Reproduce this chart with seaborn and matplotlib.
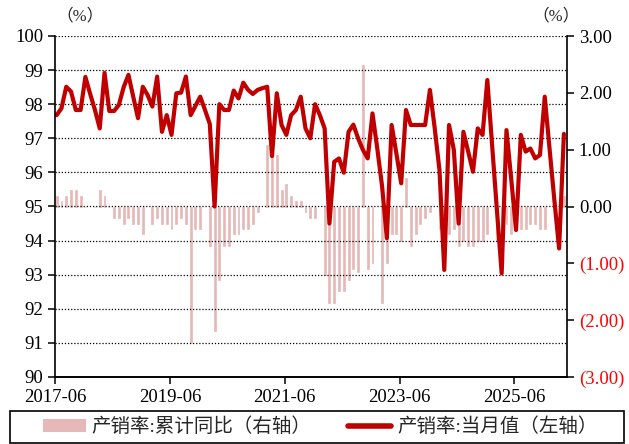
import numpy as np
import pandas as pd
import matplotlib
matplotlib.use("Agg")
import matplotlib.pyplot as plt
import seaborn as sns
from matplotlib.lines import Line2D
from matplotlib.patches import Patch, Rectangle

nan = np.nan

# monthly data, 2017-06 .. 2026-04
months = pd.date_range("2017-06-01", periods=107, freq="MS")
tick_labels = ["2017-06", "2019-06", "2021-06", "2023-06", "2025-06"]

# 产销率:当月值 (left axis, %)
monthly_rate = [
    97.68, 97.88, 98.51, 98.37, 97.83, 97.83, 98.80, 98.30, 97.83, 97.29,
    98.92, 97.80, 97.80, 97.98, 98.50, 98.86, 98.22, 97.59, 98.51, 98.27,
    97.93, 98.81, 97.19, 97.68, 97.10, 98.32, 98.34, 98.81, 97.68, 97.95,
    98.22, 97.83, 97.42, 95.00, 98.00, 97.83, 97.83, 98.40, 98.17, 98.63,
    98.42, 98.30, 98.42, 98.47, 98.51, 96.48, 98.32, 97.39, 97.10, 97.68,
    97.83, 98.22, 97.29, 97.00, 98.00, 97.68, 97.29, 94.50, 96.31, 96.41,
    95.99, 97.19, 97.40, 97.00, 96.66, 96.41, 97.73, 96.70, 95.60, 94.07,
    97.39, 96.55, 95.68, 97.83, 97.39, 97.39, 97.39, 97.39, 98.42, 97.30,
    96.07, 93.14, 97.39, 96.66, 94.50, 97.19, 96.61, 96.02, 97.29, 97.10,
    98.71, 96.80, 94.90, 93.04, 97.24, 95.80, 94.31, 97.10, 96.61, 96.70,
    96.41, 96.51, 98.22, 96.70, 95.20, 93.77, 97.13,
]

# 产销率:累计同比 (right axis, ppt)
cum_yoy = [
    0.19, 0.09, 0.19, 0.29, 0.29, 0.19, 0.00, nan, 0.00, 0.29,
    0.19, 0.00, -0.20, -0.20, -0.30, -0.20, -0.30, -0.30, -0.49, nan,
    -0.30, -0.20, -0.30, -0.30, -0.40, -0.30, -0.20, -0.30, -2.41, -0.40,
    -0.40, nan, -0.69, -2.19, -1.29, -0.69, -0.69, -0.49, -0.49, -0.40,
    -0.40, -0.30, -0.10, nan, 1.09, 0.90, 0.90, 0.29, 0.39, 0.19,
    0.09, 0.09, -0.10, -0.20, -0.20, nan, -1.20, -1.70, -1.70, -1.49,
    -1.49, -1.29, -1.10, -1.15, 2.49, -1.10, -1.00, nan, -1.70, -1.00,
    -0.49, -0.49, -0.60, 0.50, -0.69, -0.49, -0.30, -0.20, -0.10, nan,
    -0.40, -0.49, -0.49, -0.40, -0.69, -0.60, -0.69, -0.69, -0.60, -0.60,
    -0.49, nan, -0.60, -0.50, -0.30, -0.49, -0.40, -0.40, -0.40, -0.30,
    -0.30, -0.40, -0.40, nan, nan, nan, 0.19,
]

left_ticks = list(range(90, 101))
right_ticks = [-3, -2, -1, 0, 1, 2, 3]

RED = "#C00000"
PINK = "#E6B9B8"

df = pd.DataFrame({"month": months, "rate": monthly_rate, "yoy": cum_yoy})
df["pos"] = (df["month"].dt.year - 2017) * 12 + df["month"].dt.month - 6 + 0.35

sns.set_style("ticks")
plt.rcParams["font.family"] = ["Liberation Serif", "Noto Sans CJK SC"]

fig = plt.figure(figsize=(6.29, 4.44), dpi=100)
ax = fig.add_axes([55 / 629, 67 / 444, 512 / 629, 341 / 444])
ax2 = ax.twinx()

sns.barplot(data=df.dropna(subset=["yoy"]), x="pos", y="yoy", native_scale=True,
            width=0.4, color=PINK, saturation=1, errorbar=None,
            edgecolor=PINK, linewidth=0.5, ax=ax2)
sns.lineplot(data=df, x="pos", y="rate", color=RED, linewidth=3, ax=ax)

ax.set_zorder(ax2.get_zorder() + 1)
ax.patch.set_visible(False)

ax.set_ylim(90, 100)
ax2.set_ylim(-3, 3)
ax.set_xlim(0, 107)

ax.set_yticks(left_ticks)
ax.set_xticks([0, 24, 48, 72, 96], labels=tick_labels)
r_labels = [f"({abs(v):.2f})" if v < 0 else f"{v:.2f}" for v in right_ticks]
ax2.set_yticks(right_ticks, labels=r_labels)

ax.grid(axis="y", linestyle=(0, (1, 1.5)), color="black", linewidth=0.9)
for a in (ax, ax2):
    a.set_xlabel("")
    a.set_ylabel("")
    a.spines["top"].set_visible(False)
    for s in ("left", "right", "bottom"):
        a.spines[s].set_color("black")
        a.spines[s].set_linewidth(1.2)
    a.tick_params(labelsize=13.5, length=5, width=1.1, direction="out", colors="black")
ax.spines["right"].set_visible(False)
ax2.spines["left"].set_visible(False)
for lab, v in zip(ax2.get_yticklabels(), right_ticks):
    lab.set_color("#FF0000" if v < 0 else "black")

fig.text(80 / 629, 1 - 16 / 444, "（%）", fontsize=12, ha="center", va="center")
fig.text(556 / 629, 1 - 16 / 444, "（%）", fontsize=12, ha="center", va="center")

handles = [Patch(facecolor=PINK, edgecolor="none"),
           Line2D([], [], color=RED, linewidth=4)]
labels = ["产销率:累计同比（右轴）", "产销率:当月值（左轴）"]
fig.legend(handles, labels, loc="center", bbox_to_anchor=(320 / 629, 1 - 427 / 444),
           ncol=2, frameon=False, fontsize=14, handlelength=2.2, handleheight=0.6,
           handletextpad=0.3, columnspacing=1.9)
fig.patches.append(Rectangle((10 / 629, 1 - 443 / 444), 614 / 629, 32 / 444,
                             transform=fig.transFigure, fill=False,
                             edgecolor="black", linewidth=1.2))

fig.savefig("out.png", dpi=100)
